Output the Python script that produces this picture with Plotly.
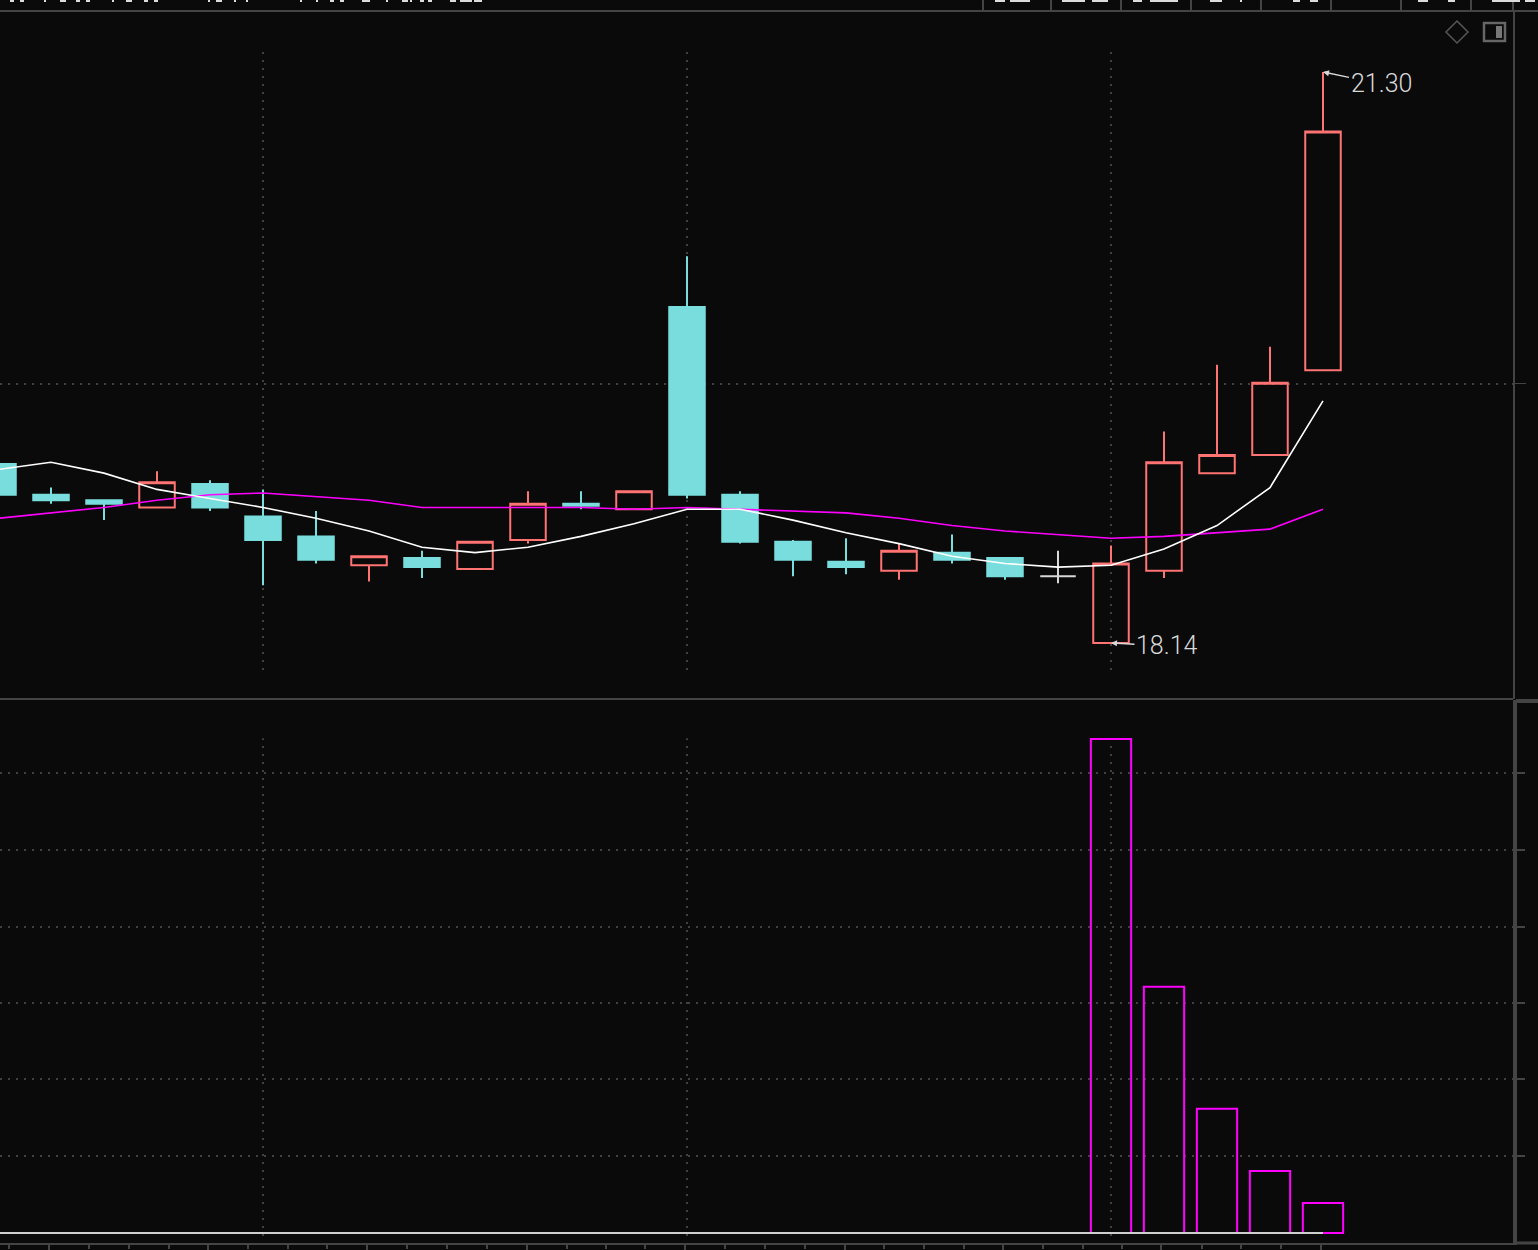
import plotly.graph_objects as go

W, H = 1538, 1250
BG = "#0a0a0a"
GREY = "#444444"
DOT = "#414141"
RED = "#ff7373"
CYAN = "#79dddd"
MAGENTA = "#ff00ff"
LABEL = "#d8d8d8"

idx = list(range(26))
open_ = [19.13, 18.96, 18.93, 18.89, 19.02, 18.84, 18.73, 18.57, 18.61, 18.55, 18.71, 18.91, 18.88, 20.00, 18.96, 18.70, 18.59, 18.54, 18.64, 18.61, None, 18.14, 18.54, 19.08, 19.18, 19.65]
close = [18.96, 18.93, 18.91, 19.03, 18.89, 18.71, 18.60, 18.62, 18.56, 18.70, 18.91, 18.90, 18.98, 18.96, 18.70, 18.60, 18.56, 18.65, 18.60, 18.51, None, 18.58, 19.14, 19.18, 19.58, 20.97]
high = [19.13, 19.00, 18.93, 19.09, 19.04, 18.99, 18.87, 18.62, 18.65, 18.70, 18.98, 18.98, 18.98, 20.28, 18.98, 18.71, 18.72, 18.69, 18.74, 18.61, None, 18.68, 19.31, 19.68, 19.78, 21.30]
low = [18.96, 18.91, 18.82, 18.89, 18.87, 18.46, 18.58, 18.48, 18.50, 18.55, 18.69, 18.88, 18.88, 18.94, 18.69, 18.51, 18.52, 18.49, 18.58, 18.49, None, 18.14, 18.50, 19.08, 19.18, 19.65]

doji_open = [None] * 20 + [18.51] + [None] * 5
doji_close = [None] * 20 + [18.51] + [None] * 5
doji_high = [None] * 20 + [18.65] + [None] * 5
doji_low = [None] * 20 + [18.47] + [None] * 5

ma_white = [19.10, 19.14, 19.08, 18.99, 18.94, 18.89, 18.83, 18.76, 18.67, 18.64, 18.67, 18.73, 18.80, 18.88, 18.88, 18.82, 18.75, 18.69, 18.62, 18.58, 18.56, 18.57, 18.66, 18.79, 19.00, 19.48]
ma_magenta = [18.83, 18.86, 18.89, 18.93, 18.96, 18.97, 18.95, 18.93, 18.89, 18.89, 18.89, 18.89, 18.88, 18.89, 18.88, 18.87, 18.86, 18.83, 18.79, 18.76, 18.74, 18.72, 18.73, 18.75, 18.77, 18.88]

volume_x = [21, 22, 23, 24, 25]
volume = [6.44, 3.21, 1.62, 0.81, 0.39]
baseline = [0] * 26

price_ticks = [19.575]
volume_ticks = [1.0, 2.01, 3.0, 3.99, 4.99, 6.0]
grid_x = [5, 13, 21]
major_ticks = [0.96, 3.97, 6.96, 9.98, 12.96, 15.98, 18.97, 21.95, 24.96]
minor_ticks = [0.21, 1.72, 2.47, 3.23, 4.72, 5.47, 6.21, 7.72, 8.47, 9.23, 10.73, 11.47, 12.21,
               13.72, 14.47, 15.23, 16.72, 17.47, 18.22, 19.72, 20.47, 21.2, 22.72, 23.45, 24.2]

top_text_spans = [(10, 14), (20, 24), (44, 46), (60, 66), (76, 80), (86, 90), (112, 114), (126, 132),
                  (144, 148), (154, 158), (208, 210), (216, 222), (234, 236), (246, 248), (300, 302),
                  (316, 318), (330, 334), (340, 344), (362, 370), (386, 388), (402, 408), (410, 412),
                  (420, 424), (428, 432), (450, 456), (460, 472), (474, 482), (995, 1005), (1010, 1030),
                  (1062, 1085), (1092, 1108), (1133, 1142), (1150, 1178), (1210, 1222), (1240, 1242),
                  (1293, 1300), (1310, 1318), (1418, 1428), (1448, 1455), (1492, 1520), (1525, 1535)]
toolbar_dividers = [983, 1051, 1121, 1191, 1261, 1331, 1401, 1471]


def px(x):
    return x / W


def py(y):
    return 1 - y / H


def chrome_line(x0, y0, x1, y1, color=GREY, width=2):
    return dict(type="line", xref="paper", yref="paper", x0=px(x0), y0=py(y0), x1=px(x1), y1=py(y1),
                line=dict(color=color, width=width), layer="above")


fig = go.Figure()

fig.add_trace(go.Bar(x=volume_x, y=volume, xaxis="x", yaxis="y2", width=0.76,
                     marker=dict(color="rgba(0,0,0,0)", line=dict(color=MAGENTA, width=2))))
fig.add_trace(go.Scatter(x=idx, y=baseline, xaxis="x", yaxis="y2", mode="lines",
                         line=dict(color="#cfcfcf", width=2)))
fig.add_trace(go.Candlestick(x=idx, open=open_, high=high, low=low, close=close, xaxis="x", yaxis="y",
                             whiskerwidth=0,
                             increasing=dict(line=dict(color=RED, width=2), fillcolor="rgba(0,0,0,0)"),
                             decreasing=dict(line=dict(color=CYAN, width=2), fillcolor=CYAN)))
fig.add_trace(go.Candlestick(x=idx, open=doji_open, high=doji_high, low=doji_low, close=doji_close,
                             xaxis="x", yaxis="y", whiskerwidth=0,
                             increasing=dict(line=dict(color="#d8d8d8", width=2), fillcolor="rgba(0,0,0,0)"),
                             decreasing=dict(line=dict(color="#d8d8d8", width=2), fillcolor="rgba(0,0,0,0)")))
fig.add_trace(go.Scatter(x=idx, y=ma_magenta, xaxis="x", yaxis="y", mode="lines",
                         line=dict(color=MAGENTA, width=1.6)))
fig.add_trace(go.Scatter(x=idx, y=ma_white, xaxis="x", yaxis="y", mode="lines",
                         line=dict(color="#ffffff", width=1.6)))

shapes = []
for gx in grid_x:
    shapes.append(dict(type="line", xref="x", yref="y", x0=gx, x1=gx, y0=17.99, y1=21.41, layer="below",
                       line=dict(color=DOT, width=2, dash="2px,6px")))
    shapes.append(dict(type="line", xref="x", yref="y2", x0=gx, x1=gx, y0=-0.04, y1=6.45, layer="below",
                       line=dict(color=DOT, width=2, dash="2px,6px")))

shapes.append(chrome_line(0, 11, W, 11))
shapes.append(chrome_line(0, 699, 1513, 699))
shapes.append(chrome_line(1516, 701, W, 701, width=4))
shapes.append(chrome_line(1516, 1243, W, 1243, width=3))
for d in toolbar_dividers:
    shapes.append(chrome_line(d, 0, d, 11))
shapes.append(chrome_line(1513, 0, 1513, 11))
for a, b in top_text_spans:
    shapes.append(chrome_line(a, 1, b, 1, color="#dcdcdc", width=2))
# diamond icon
shapes.append(dict(type="path", xref="paper", yref="paper", layer="above",
                   path=f"M {px(1457)},{py(21)} L {px(1468)},{py(32)} L {px(1457)},{py(43)} L {px(1446)},{py(32)} Z",
                   line=dict(color="#555555", width=1.5), fillcolor="rgba(0,0,0,0)"))
# panel icon
shapes.append(dict(type="rect", xref="paper", yref="paper", layer="above",
                   x0=px(1484), x1=px(1505), y0=py(23), y1=py(41),
                   line=dict(color="#666666", width=2.5), fillcolor="rgba(0,0,0,0)"))
shapes.append(dict(type="rect", xref="paper", yref="paper", layer="above",
                   x0=px(1496), x1=px(1502), y0=py(26), y1=py(38),
                   line=dict(width=0), fillcolor="#777777"))

label_font = dict(family="Roboto", size=25, color=LABEL, weight=300)
annotations = [
    dict(x=25, y=21.30, xref="x", yref="y", ax=58, ay=12, text="21.30", font=label_font, showarrow=True,
         arrowhead=2, arrowsize=0.8, arrowwidth=1.5, arrowcolor=LABEL),
    dict(x=21, y=18.14, xref="x", yref="y", ax=56, ay=3, text="18.14", font=label_font, showarrow=True,
         arrowhead=2, arrowsize=0.8, arrowwidth=1.5, arrowcolor=LABEL),
]

fig.update_layout(
    width=W, height=H, autosize=False,
    margin=dict(l=0, r=0, t=0, b=0, pad=0),
    paper_bgcolor=BG, plot_bgcolor=BG,
    showlegend=False, hovermode=False,
    boxmode="overlay", boxgap=0.33, boxgroupgap=0,
    shapes=shapes, annotations=annotations,
    xaxis=dict(domain=[0, 1513 / W], range=[0.0377, 28.585], anchor="y2", rangeslider=dict(visible=False),
               showgrid=False, zeroline=False, showticklabels=False, showline=True, linecolor=GREY, linewidth=2,
               ticks="outside", tickmode="array", tickvals=major_ticks, ticklen=7, tickwidth=1.5, tickcolor=GREY,
               minor=dict(tickmode="array", tickvals=minor_ticks, ticks="outside", ticklen=4, tickwidth=1.5,
                          tickcolor=GREY, showgrid=False)),
    yaxis=dict(domain=[1 - 699 / H, 1 - 12 / H], range=[17.83, 21.632], anchor="x", side="right",
               showticklabels=False, zeroline=False, showline=True, linecolor=GREY, linewidth=2,
               ticks="outside", tickmode="array", tickvals=price_ticks, ticklen=11, tickwidth=1, tickcolor=GREY,
               showgrid=True, gridcolor=DOT, griddash="2px,6px", gridwidth=2),
    yaxis2=dict(domain=[1 - 1243 / H, 1 - 700 / H], range=[-0.13, 6.95], anchor="x", side="right",
                showticklabels=False, zeroline=False, showline=True, linecolor=GREY, linewidth=4,
                ticks="outside", tickmode="array", tickvals=volume_ticks, ticklen=8, tickwidth=1.5, tickcolor=GREY,
                showgrid=True, gridcolor=DOT, griddash="2px,6px", gridwidth=2),
)

fig.write_html("out.html", config={"displayModeBar": False},
               post_script="document.body.style.margin='0';document.body.style.background='#0a0a0a';document.body.style.overflow='hidden';")
